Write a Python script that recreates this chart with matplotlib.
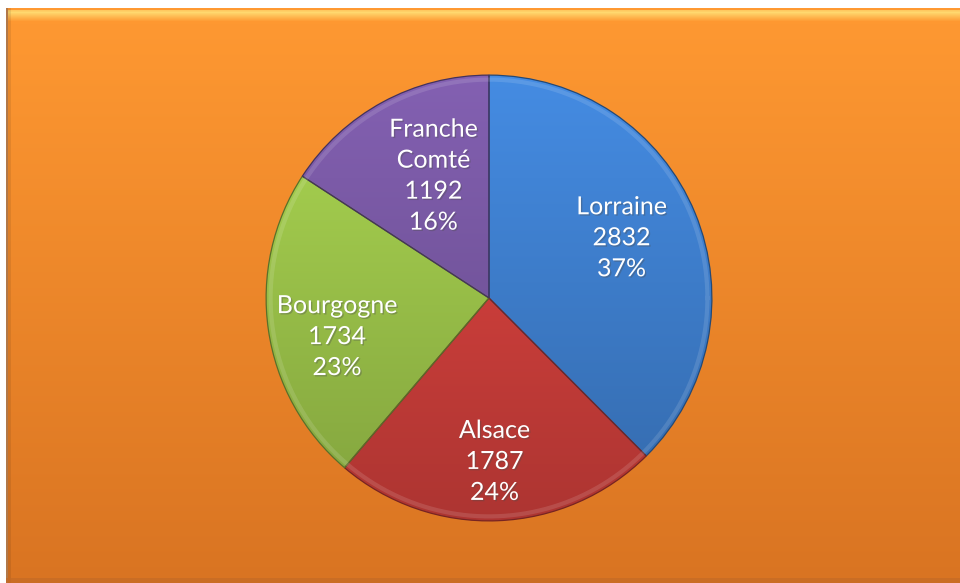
import numpy as np
import matplotlib
matplotlib.use("Agg")
from matplotlib import pyplot as plt
from matplotlib import colors as mcolors
from matplotlib import patheffects as pe

# Data
regions = ["Lorraine", "Alsace", "Bourgogne", "Franche\nComté"]
counts = [2832, 1787, 1734, 1192]
pct_labels = ["37%", "24%", "23%", "16%"]

# Styles
slice_colors = ["#4184D6", "#D8423E", "#A2CB4D", "#7C5BA8"]
label_radius = [0.65, 0.73, 0.70, 0.60]
label_turn = [2.0, -0.3, 6.0, -4.0]

W, H = 960, 583
fig = plt.figure(figsize=(W / 100, H / 100), dpi=100)
fig.patch.set_facecolor("white")

# Orange panel background with gradient and bevel
left_px, top_px = 6, 8
bg_h, bg_w = H - top_px, W - left_px
top_c = np.array(mcolors.to_rgb("#FF9932"))
bot_c = np.array(mcolors.to_rgb("#D97422"))
t = np.linspace(0, 1, bg_h)[:, None]
col = top_c * (1 - t) + bot_c * t
img = np.repeat(col[:, None, :], bg_w, axis=1)
hl = np.array(mcolors.to_rgb("#FFD86E"))
for i in range(2, 14):
    a = max(0.0, 1 - abs(i - 4) / 9.0)
    img[i] = img[i] * (1 - a) + hl * a
edge_c = np.array(mcolors.to_rgb("#B27848"))
img[:, 0:2] = edge_c
img[:, 2:5] = img[:, 2:5] * 0.92
bot_edge = np.array(mcolors.to_rgb("#C46A26"))
img[-5:] = img[-5:] * 0.3 + bot_edge * 0.7

bg = fig.add_axes([left_px / W, 0, bg_w / W, bg_h / H])
bg.imshow(img, aspect="auto", interpolation="bilinear")
bg.set_axis_off()

# Pie axes placed in pixels
cx, cy, r = 489, 298, 224
ax = fig.add_axes([(cx - r) / W, (H - cy - r) / H, 2 * r / W, 2 * r / H])
ax.set_axis_off()

wedges, _ = ax.pie(counts, colors=slice_colors, startangle=90, counterclock=False,
                   radius=0.995, wedgeprops=dict(edgecolor="none"))

# Vertical shading inside each slice
g = np.linspace(1.0, 0.0, 256)[:, None]
for w, c in zip(wedges, slice_colors):
    base = np.array(mcolors.to_rgb(c))
    light = np.clip(base * 1.06, 0, 1)
    dark = base * 0.80
    grad = light * g[..., None] + dark * (1 - g[..., None])
    grad = np.repeat(grad, 2, axis=1)
    im = ax.imshow(grad, extent=(-1, 1, -1, 1), aspect="auto", zorder=1.5,
                   interpolation="bilinear")
    im.set_clip_path(w)
    w.set_facecolor("none")
    w.set_edgecolor(tuple(base * 0.55))
    w.set_linewidth(0.9)
    w.set_zorder(2)

# Slight rim highlight
theta = np.linspace(0, 2 * np.pi, 400)
ax.plot(0.975 * np.cos(theta), 0.975 * np.sin(theta), color="white", alpha=0.12,
        lw=3, zorder=2.5)

for w, name, n, p, rr, dt in zip(wedges, regions, counts, pct_labels,
                                 label_radius, label_turn):
    mid = np.deg2rad((w.theta1 + w.theta2) / 2 + dt)
    ax.text(rr * np.cos(mid), rr * np.sin(mid), f"{name}\n{n}\n{p}",
            ha="center", va="center", color="white", fontsize=18,
            family=["Lato", "DejaVu Sans"], linespacing=1.42, zorder=4,
            path_effects=[pe.withSimplePatchShadow(offset=(1, -1), alpha=0.35)])

ax.set_xlim(-1, 1)
ax.set_ylim(-1, 1)
ax.set_aspect("equal")

fig.savefig("out.png", dpi=100)
